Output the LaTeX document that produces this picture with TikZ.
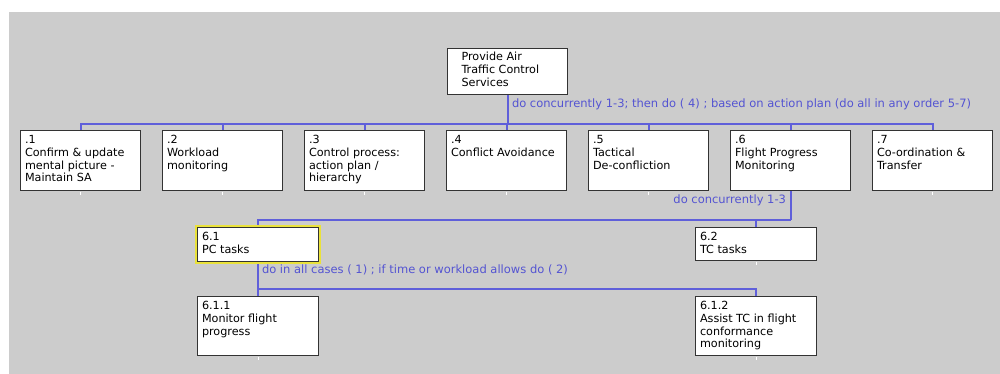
\documentclass[tikz,border=0pt]{standalone}
\usepackage{fontspec}
\newfontfamily\boxfont{DejaVu Sans}
\definecolor{canvasgray}{HTML}{CCCCCC}
\definecolor{boxline}{HTML}{333333}
\definecolor{linkblue}{HTML}{5F5FDA}
\definecolor{planblue}{HTML}{5454D2}
\definecolor{hlyellow}{HTML}{EAE23A}
% first-line strut: fixes the top of each text block 9pt above its first baseline
\newcommand{\fls}{\rule{0pt}{9pt}}
\begin{document}
\begin{tikzpicture}[x=1pt,y=-1pt,
  box/.style={rectangle, draw=boxline, line width=1.1pt, fill=white,
    inner sep=0pt, outer sep=0pt, anchor=north west},
  txt/.style={anchor=north west, inner sep=0pt, outer sep=0pt, align=left,
    font=\boxfont\fontsize{11.2}{12.8}\selectfont, text=black},
  plan/.style={inner sep=0pt, outer sep=0pt, text=planblue,
    font=\boxfont\fontsize{11.5}{13}\selectfont},
  link/.style={draw=linkblue, line width=2pt},
  tick/.style={draw=white, line width=1pt},
  hl/.style={draw=hlyellow, line width=2pt}]

\useasboundingbox (0,0) rectangle (1000,374);
\fill[white] (0,0) rectangle (1000,374);
\fill[canvasgray] (8.7,12) rectangle (1000,374);

% root task
\node[box, minimum width=120pt, minimum height=46pt] (top) at (447.5,48.5) {};
\node[txt] (ttop) at ([shift={(14,3.2)}]top.north west) {\fls Provide Air\\Traffic Control\\Services};

% first level
\foreach \n/\x in {1/20.5, 2/162.5, 3/304.5, 4/446.5, 5/588.5, 6/730.5, 7/872.5}{
  \node[box, minimum width=120pt, minimum height=60pt] (c\n) at (\x,130.5) {};
}
\node[txt] (t1) at ([shift={(4.5,4)}]c1.north west) {\fls .1\\Confirm \& update\\mental picture -\\Maintain SA};
\node[txt] (t2) at ([shift={(4.5,4)}]c2.north west) {\fls .2\\Workload\\monitoring};
\node[txt] (t3) at ([shift={(4.5,4)}]c3.north west) {\fls .3\\Control process:\\action plan /\\hierarchy};
\node[txt] (t4) at ([shift={(4.5,4)}]c4.north west) {\fls .4\\Conflict Avoidance};
\node[txt] (t5) at ([shift={(4.5,4)}]c5.north west) {\fls .5\\Tactical\\De-confliction};
\node[txt] (t6) at ([shift={(4.5,4)}]c6.north west) {\fls .6\\Flight Progress\\Monitoring};
\node[txt] (t7) at ([shift={(4.5,4)}]c7.north west) {\fls .7\\Co-ordination \&\\Transfer};

% second level (6.1 is the highlighted task)
\node[box, minimum width=121pt, minimum height=34pt] (p1) at (197.5,227.5) {};
\draw[hl] ([xshift=-1.5pt,yshift=1.5pt]p1.north west) rectangle ([xshift=1.5pt,yshift=-1.5pt]p1.south east);
\node[txt] (tp1) at ([shift={(4.5,4)}]p1.north west) {\fls 6.1\\PC tasks};
\node[box, minimum width=121pt, minimum height=33pt] (p2) at (695.5,227.5) {};
\node[txt] (tp2) at ([shift={(4.5,4)}]p2.north west) {\fls 6.2\\TC tasks};

% third level
\node[box, minimum width=121pt, minimum height=59pt] (q1) at (197.5,296.5) {};
\node[txt] (tq1) at ([shift={(4.5,4)}]q1.north west) {\fls 6.1.1\\Monitor flight\\progress};
\node[box, minimum width=121pt, minimum height=59pt] (q2) at (695.5,296.5) {};
\node[txt] (tq2) at ([shift={(4.5,4)}]q2.north west) {\fls 6.1.2\\Assist TC in flight\\conformance\\monitoring};

% plan buses
\coordinate (bus0) at (0,124);
\coordinate (bus6) at (0,220);
\coordinate (bus61) at (0,289);
\coordinate (j0) at (top.south |- bus0);
\coordinate (j6) at (c6.south |- bus6);
\coordinate (j61) at (p1.south |- bus61);

\draw[link] ([yshift=-0.55pt]top.south) -- (j0);
\foreach \n in {1,...,7}{
  \draw[link] (j0) -| ([yshift=0.55pt]c\n.north);
}
\draw[link] ([yshift=-0.55pt]c6.south) -- (j6);
\draw[link] (j6) -| ([yshift=2.5pt]p1.north);
\draw[link] (j6) -| ([yshift=0.55pt]p2.north);
\draw[link] ([yshift=-2.5pt]p1.south) -- (j61);
\draw[link] (j61) -| ([yshift=0.55pt]q1.north);
\draw[link] (j61) -| ([yshift=0.55pt]q2.north);

% plan texts
\node[plan, anchor=base west] (plan0) at (512,107.3) {do concurrently 1-3; then do ( 4) ; based on action plan (do all in any order 5-7)};
\node[plan, anchor=base east] (plan6) at (786,203.5) {do concurrently 1-3};
\node[plan, anchor=base west] (plan61) at (262,273.3) {do in all cases ( 1) ; if time or workload allows do ( 2)};

% stubs under leaf tasks
\foreach \b in {c1,c2,c3,c4,c5,c7,p2,q1,q2}{
  \draw[tick] ([yshift=-1.2pt]\b.south) -- ++(0,3.2);
}
\end{tikzpicture}
\end{document}
